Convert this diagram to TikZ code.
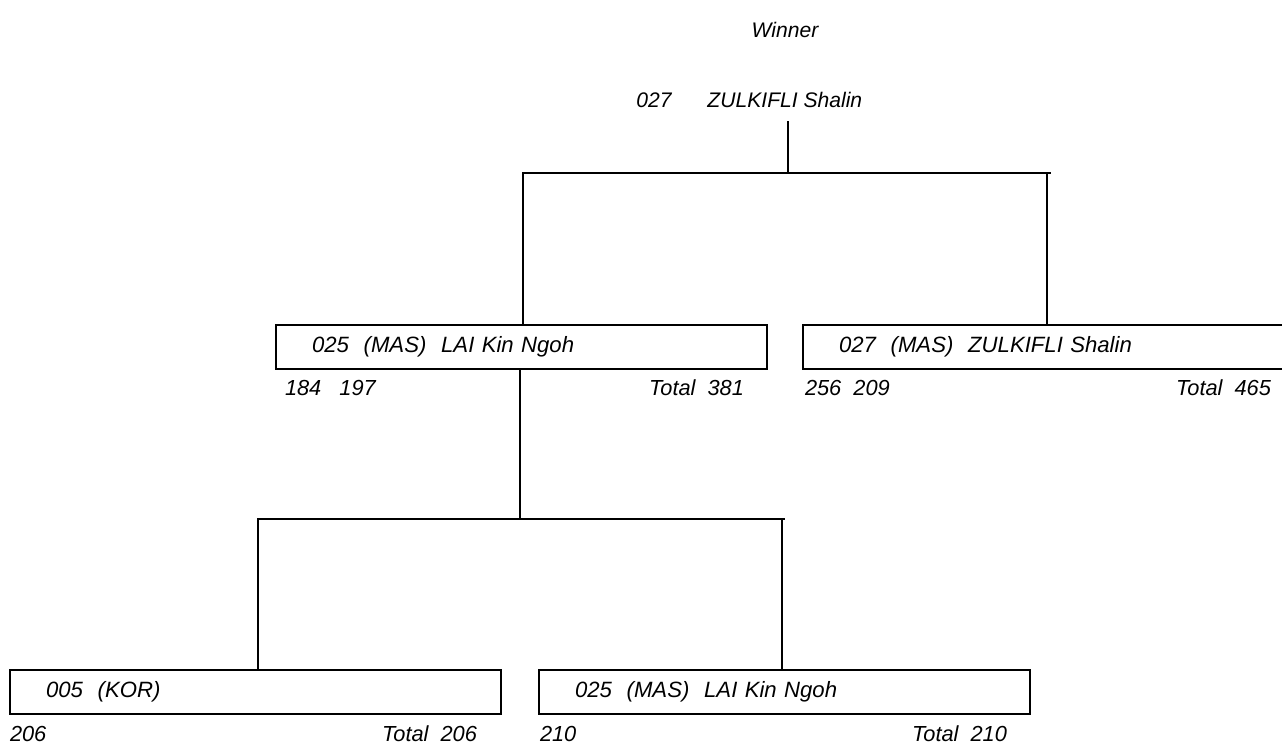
\documentclass[tikz,border=0pt]{standalone}
\usepackage{fontspec}
\setmainfont{Liberation Sans}
\usetikzlibrary{positioning}

\begin{document}
\begin{tikzpicture}[x=0.1mm, y=-0.1mm, line width=0.35pt, line cap=rect,
	font=\fontsize{6}{7.2}\selectfont\itshape,
	entry/.style={draw, minimum height=4.4mm, text width=41.9mm, inner xsep=3.6mm, align=left,
		font=\fontsize{6.3}{7.5}\selectfont\itshape},
	score/.style={inner sep=0pt, font=\fontsize{6.2}{7.4}\selectfont\itshape}]
	\useasboundingbox (0,0) rectangle (1282,747);
	
	% [Winner]
	\node (win) at (785,30) {Winner};
	\node[anchor=west] (champ) at (624,100) {027\hspace{3.6mm}ZULKIFLI Shalin};
	
	% [Final]
	\node[entry] (b1) at (521.5,347) {025~~(MAS)~~LAI Kin Ngoh};
	\node[entry] (b2) at (1048.5,347) {027~~(MAS)~~ZULKIFLI Shalin};
	\node[score, anchor=west] (s1) at ([xshift=0.9mm, yshift=-1.85mm]b1.south west) {184~~~197};
	\node[score, anchor=east] (t1) at ([xshift=-2.3mm, yshift=-1.85mm]b1.south east) {Total~~381};
	\node[score, anchor=west] (s2) at ([xshift=0.2mm, yshift=-1.85mm]b2.south west) {256~~209};
	\node[score, anchor=east] (t2) at ([xshift=-2.3mm, yshift=-1.85mm]b2.south east) {Total~~465};
	
	% [Semi-final]
	\node[entry] (b3) at (255.5,692) {005~~(KOR)};
	\node[entry] (b4) at (784.5,692) {025~~(MAS)~~LAI Kin Ngoh};
	\node[score, anchor=west] (s3) at ([yshift=-1.9mm]b3.south west) {206};
	\node[score, anchor=east] (t3) at ([xshift=-2.4mm, yshift=-1.9mm]b3.south east) {Total~~206};
	\node[score, anchor=west] (s4) at ([xshift=0.1mm, yshift=-1.9mm]b4.south west) {210};
	\node[score, anchor=east] (t4) at ([xshift=-2.3mm, yshift=-1.9mm]b4.south east) {Total~~210};
	
	% [Nhanh tren]
	\coordinate (top) at (788,122);
	\coordinate (jt) at (788,173);
	\coordinate (jl) at (523,173);
	\coordinate (jr) at (1050,173);
	\coordinate (jrv) at (1047,173);
	\draw (top) -- (jt);
	\draw (jl) -- (jr);
	\draw (jl) -- (jl |- b1.north);
	\draw (jrv) -- (jrv |- b2.north);
	
	% [Nhanh duoi]
	\coordinate (mt) at (520,519);
	\coordinate (ml) at (258,519);
	\coordinate (mr) at (784,519);
	\coordinate (mrv) at (782,519);
	\draw (mt |- b1.south) -- (mt);
	\draw (ml) -- (mr);
	\draw (ml) -- (ml |- b3.north);
	\draw (mrv) -- (mrv |- b4.north);
\end{tikzpicture}
\end{document}
